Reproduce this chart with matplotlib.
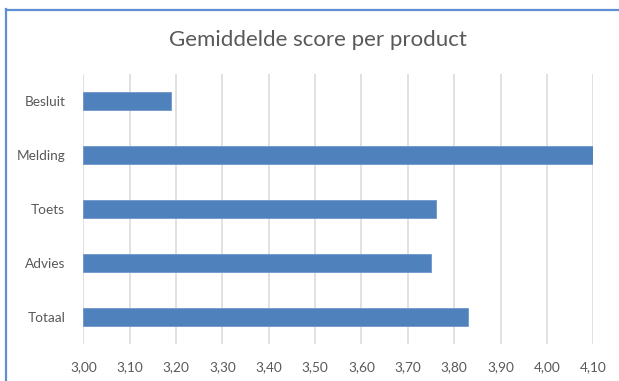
import matplotlib
matplotlib.use("Agg")
import matplotlib.pyplot as plt
from matplotlib.lines import Line2D
import numpy as np

# Gemiddelde score per product
categories = ["Besluit", "Melding", "Toets", "Advies", "Totaal"]
scores = [3.19, 4.10, 3.76, 3.75, 3.83]
x_ticks = [3.00, 3.10, 3.20, 3.30, 3.40, 3.50, 3.60, 3.70, 3.80, 3.90, 4.00, 4.10]
x_tick_labels = ["3,00", "3,10", "3,20", "3,30", "3,40", "3,50",
                 "3,60", "3,70", "3,80", "3,90", "4,00", "4,10"]
title = "Gemiddelde score per product"

plt.rcParams['font.family'] = ['Lato', 'DejaVu Sans']

W, H = 619, 381
fig = plt.figure(figsize=(W / 100, H / 100), dpi=100)
fig.patch.set_facecolor("white")

ax = fig.add_axes([83.3 / W, 1 - 344 / H, (593.3 - 83.3) / W, (344 - 74) / H])
ax.set_facecolor("white")

y = np.arange(len(categories))
base = x_ticks[0]
ax.barh(y, [s - base for s in scores], left=base, height=0.34,
        color="#4f81bd", edgecolor="#6d97cc", linewidth=0.6, zorder=3)

ax.set_xlim(x_ticks[0], x_ticks[-1])
ax.set_ylim(len(categories) - 0.5, -0.5)
ax.set_xticks(x_ticks)
ax.set_xticklabels(x_tick_labels)
ax.set_yticks(y)
ax.set_yticklabels(categories)

ax.grid(axis="x", color="#d9d9d9", linewidth=1.1, zorder=0)
ax.grid(axis="y", visible=False)
for s in ax.spines.values():
    s.set_visible(False)
ax.tick_params(axis="both", length=0, colors="#595959", labelsize=9.8)
ax.tick_params(axis="x", pad=12)
ax.tick_params(axis="y", pad=13)

fig.text(318 / W, 1 - 40 / H, title, ha="center", va="center",
         fontsize=16, color="#595959")

# frame edges along the top and left
fig.add_artist(Line2D([5.5 / W, 5.5 / W], [0, 1 - 9 / H],
                      color="#5f8fd2", linewidth=1.6, transform=fig.transFigure))
fig.add_artist(Line2D([5.5 / W, 1], [1 - 10 / H, 1 - 10 / H],
                      color="#5f8fd2", linewidth=1.6, transform=fig.transFigure))

fig.savefig("out.png", dpi=100, facecolor="white")
